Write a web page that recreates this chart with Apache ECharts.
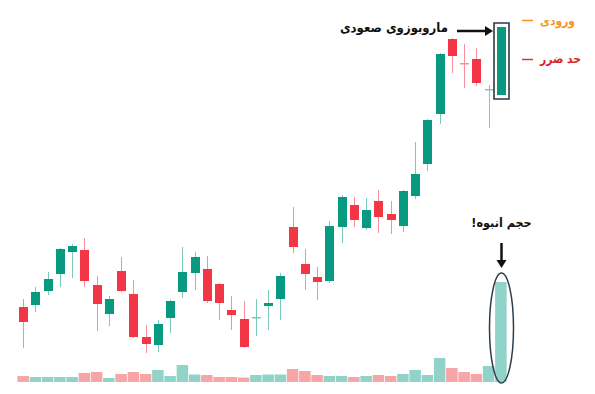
<!DOCTYPE html>
<html><head><meta charset="utf-8">
<script src="https://cdn.jsdelivr.net/npm/echarts@6/dist/echarts.min.js"></script>
<style>html,body{margin:0;padding:0;background:#fff}#c{width:595px;height:394px}</style>
</head><body><div id="c"></div>
<script>
const categories = Array.from({length: 40}, (_, i) => 'C' + (i + 1));
const opens  = [93, 95,109,126,148,150,115, 86,129,106, 63, 55, 82,108,127,131,116, 90, 81, 82, 94,101,173,136,123,119,173,195,172,199,186,174,204,236,286,361,337,341,310,305];
const closes = [78,108,121,151,154,119, 96,101,109, 63, 56, 76, 99,128,143, 99, 97, 85, 53, 83, 97,124,153,126,118,174,203,180,190,183,180,209,226,280,346,344,336,317,311,373];
const lows   = [52, 88,105,113,122,113, 69, 74,108, 62, 47, 48, 67,102,110, 97, 80, 70, 52, 64, 70, 80,147,110,100,117,157,173,170,167,166,168,201,229,276,327,312,314,272,305];
const highs  = [101,113,128,152,156,162,124,104,143,120, 75, 80,100,153,148,144,117,104, 99,101,110,127,193,151,133,179,205,203,202,210,199,210,258,281,347,362,356,352,315,373];
const volumes = [6,5,5,5,5,9,10,4,8,10,8,12,6,17,7.5,7,5,5,4.5,7,7.5,7.5,13,11,7,6,6,5,6,7,6,8,12,7,24,14,10,8,16,100];
const highlightIndex = 39;

const UP = '#089981', DOWN = '#f23645';
const UP_WICK = '#7ccab9', DOWN_WICK = '#f7909b';
const UP_VOL = '#92d3c9', DOWN_VOL = '#f6a6a6';

const candleData = categories.map((c, i) => [i, opens[i], closes[i], lows[i], highs[i]]);
const volData = volumes.map((v, i) => ({
  value: v,
  itemStyle: { color: closes[i] >= opens[i] ? UP_VOL : DOWN_VOL }
}));

const chart = echarts.init(document.getElementById('c'), null, {renderer: 'svg'});

function renderCandle(params, api) {
  const i = api.value(0);
  const o = api.value(1), c = api.value(2), l = api.value(3), h = api.value(4);
  const po = api.coord([i, o]), pc = api.coord([i, c]);
  const yl = api.coord([i, l])[1], yh = api.coord([i, h])[1];
  const x = Math.round(po[0]) + 0.5;
  const bw = Math.round(api.size([1, 0])[0] * 0.76);
  const up = c >= o;
  const top = Math.min(po[1], pc[1]);
  const hgt = Math.max(Math.abs(po[1] - pc[1]), 1.5);
  const children = [
    {type: 'line', shape: {x1: x, y1: yh, x2: x, y2: yl},
     style: {stroke: up ? UP_WICK : DOWN_WICK, lineWidth: 1}},
    {type: 'rect', shape: {x: x - bw / 2, y: top, width: bw, height: hgt},
     style: {fill: hgt <= 2 ? (up ? UP_WICK : DOWN_WICK) : (up ? UP : DOWN)}}
  ];
  if (params.dataIndex === highlightIndex) {
    children.push({type: 'rect',
      shape: {x: x - bw / 2 - 3, y: top - 4, width: bw + 6, height: hgt + 8},
      style: {fill: 'none', stroke: '#2d3a44', lineWidth: 1.6}});
  }
  return {type: 'group', children};
}

const option = {
  animation: false,
  backgroundColor: '#fff',
  grid: [
    {left: 17, width: 490, top: 0, height: 394},
    {left: 17, width: 490, top: 182, height: 200}
  ],
  xAxis: [
    {type: 'category', data: categories, gridIndex: 0, boundaryGap: true, show: false},
    {type: 'category', data: categories, gridIndex: 1, boundaryGap: true, show: false}
  ],
  yAxis: [
    {type: 'value', gridIndex: 0, min: 6, max: 400, show: false},
    {type: 'value', gridIndex: 1, min: 0, max: 200, show: false}
  ],
  series: [
    {type: 'bar', xAxisIndex: 1, yAxisIndex: 1, data: volData, barCategoryGap: '6%', z: 1},
    {type: 'custom', xAxisIndex: 0, yAxisIndex: 0, data: candleData,
     encode: {x: 0, y: [1, 2, 3, 4]}, renderItem: renderCandle, z: 2}
  ]
};
chart.setOption(option);

const vx = chart.convertToPixel({xAxisIndex: 1, yAxisIndex: 1}, [highlightIndex, volumes[highlightIndex]]);
const v0 = chart.convertToPixel({xAxisIndex: 1, yAxisIndex: 1}, [highlightIndex, 0]);
const cTop = chart.convertToPixel({xAxisIndex: 0, yAxisIndex: 0}, [highlightIndex, highs[highlightIndex]]);
const ex = Math.round(vx[0]) + 0.5;
const eTop = vx[1] - 9, eBot = v0[1] + 1;
const arabicFont = '"DejaVu Sans Condensed", "DejaVu Sans", sans-serif';

chart.setOption({
  graphic: [
    {type: 'ellipse', shape: {cx: ex, cy: (eTop + eBot) / 2, rx: 12, ry: (eBot - eTop) / 2},
     style: {fill: 'none', stroke: '#2c3e4c', lineWidth: 1.5}, z: 10},
    {type: 'line', shape: {x1: ex, y1: eTop - 30, x2: ex, y2: eTop - 12},
     style: {stroke: '#111', lineWidth: 2.5}, z: 10},
    {type: 'polygon', shape: {points: [[ex - 5, eTop - 13], [ex + 5, eTop - 13], [ex, eTop - 5]]},
     style: {fill: '#111'}, z: 10},
    {type: 'text', x: ex, y: eTop - 51,
     style: {text: 'حجم انبوه!\u200F', fill: '#111', font: 'bold 12.5px ' + arabicFont,
             align: 'center', verticalAlign: 'middle'}, z: 10},
    {type: 'line', shape: {x1: 457, y1: cTop[1] + 4, x2: 486, y2: cTop[1] + 4},
     style: {stroke: '#111', lineWidth: 2.5}, z: 10},
    {type: 'polygon', shape: {points: [[485, cTop[1] - 1], [485, cTop[1] + 9], [493, cTop[1] + 4]]},
     style: {fill: '#111'}, z: 10},
    {type: 'text', x: 448, y: cTop[1],
     style: {text: 'ماروبوزوی صعودی', fill: '#111', font: 'bold 13px ' + arabicFont,
             align: 'right', verticalAlign: 'middle'}, z: 10},
    {type: 'line', shape: {x1: 522, y1: 20.5, x2: 533, y2: 20.5},
     style: {stroke: '#f7931e', lineWidth: 1.5}, z: 10},
    {type: 'text', x: 540, y: 21,
     style: {text: 'ورودی', fill: '#f7931e', font: 'bold 12px ' + arabicFont,
             align: 'left', verticalAlign: 'middle'}, z: 10},
    {type: 'line', shape: {x1: 522, y1: 59.5, x2: 533, y2: 59.5},
     style: {stroke: '#e5303a', lineWidth: 1.5}, z: 10},
    {type: 'text', x: 540, y: 59,
     style: {text: 'حد ضرر', fill: '#d9251f', font: 'bold 12px ' + arabicFont,
             align: 'left', verticalAlign: 'middle'}, z: 10}
  ]
});
</script></body></html>
